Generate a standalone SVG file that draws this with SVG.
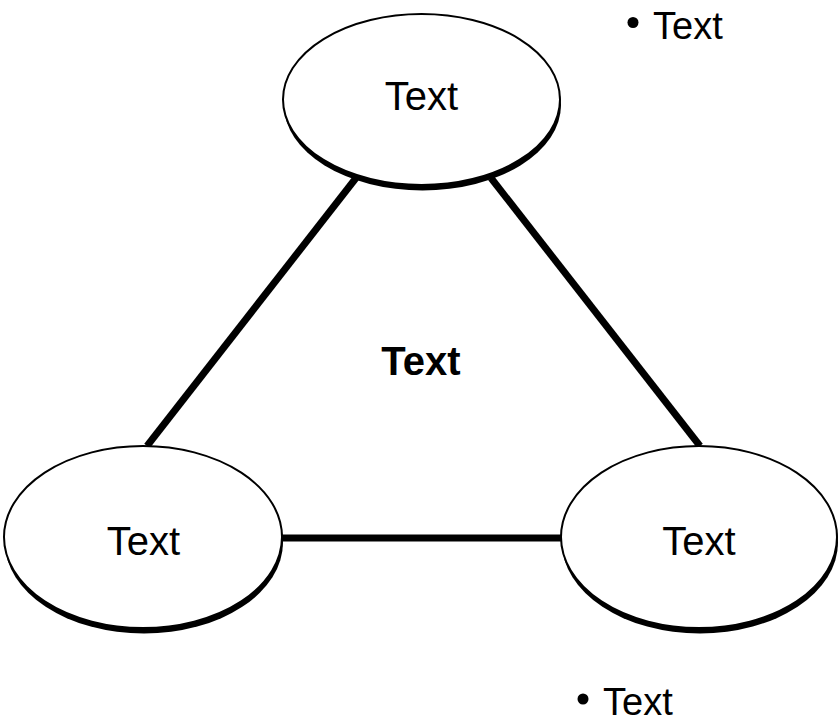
<svg xmlns="http://www.w3.org/2000/svg" width="839" height="722" viewBox="0 0 839 722">
<style>
.shadow{fill:#000}
.node{fill:#fff;stroke:#000;stroke-width:2}
.lbl{font-family:"Liberation Sans",Arial,sans-serif;font-size:40px;fill:#000;text-anchor:middle}
.bold{font-weight:bold}
.bul{font-family:"Liberation Sans",Arial,sans-serif;font-size:38px;fill:#000}
.edge{stroke:#000;stroke-width:7;fill:none}
</style>
<rect width="839" height="722" fill="#fff"/>
<g id="connectors">
<line class="edge" x1="147" y1="446" x2="356" y2="178"/>
<line class="edge" x1="491" y1="178" x2="700" y2="446"/>
<line class="edge" x1="280" y1="538" x2="563" y2="538"/>
</g>
<g id="node-top">
<ellipse class="shadow" cx="422.5" cy="105" rx="138.5" ry="85.5"/>
<ellipse class="node" cx="421.5" cy="99.5" rx="138.5" ry="85.5"/>
<text class="lbl" x="421.5" y="110">Text</text>
</g>
<g id="node-left">
<ellipse class="shadow" cx="144" cy="542.5" rx="139" ry="91"/>
<ellipse class="node" cx="143" cy="537" rx="139" ry="91"/>
<text class="lbl" x="143.5" y="555">Text</text>
</g>
<g id="node-right">
<ellipse class="shadow" cx="700" cy="542.5" rx="138" ry="91"/>
<ellipse class="node" cx="699" cy="537" rx="138" ry="91"/>
<text class="lbl" x="699" y="555">Text</text>
</g>
<g id="center-label">
<text class="lbl bold" x="421" y="375">Text</text>
</g>
<g id="bullet-top">
<circle cx="633" cy="22.5" r="5.5"/>
<text class="bul" x="653" y="39">Text</text>
</g>
<g id="bullet-bottom">
<circle cx="583" cy="699" r="5.5"/>
<text class="bul" x="603" y="715">Text</text>
</g>
</svg>
